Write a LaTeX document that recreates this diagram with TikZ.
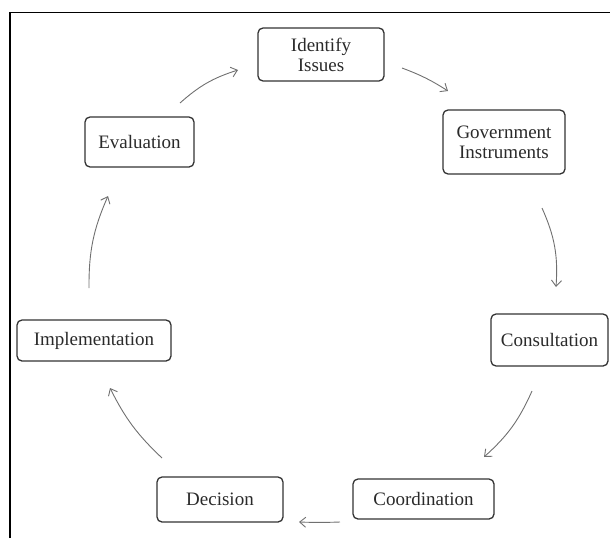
\documentclass[tikz,border=0pt]{standalone}
\usepackage{fontspec}
\setmainfont{Liberation Serif}
\usetikzlibrary{arrows.meta}
\definecolor{boxc}{HTML}{333333}
\definecolor{arrc}{HTML}{707070}
\definecolor{txtc}{HTML}{2A2A2A}
\begin{document}
\begin{tikzpicture}[x=1pt,y=-1pt,
  box/.style={draw=boxc, line width=1.3pt, rounded corners=5pt, inner sep=0pt, align=center, text=txtc, font=\fontsize{19}{20}\selectfont},
  flow/.style={draw=arrc, line width=0.9pt, -{Straight Barb[length=6pt,width=10pt]}},
  frame/.style={draw=black, line width=1.4pt}]
\useasboundingbox (0,0) rectangle (610,538);
\draw[frame] (10,538) -- (10,12.5) -- (610,12.5);
\node[box, minimum width=126pt, minimum height=53pt] (iden) at (321,54.5) {Identify\\Issues};
\node[box, minimum width=122pt, minimum height=64pt] (gov) at (504,142) {Government\\Instruments};
\node[box, minimum width=117pt, minimum height=52pt] (cons) at (549.5,340) {Consultation};
\node[box, minimum width=141pt, minimum height=40pt] (coord) at (423.5,499) {Coordination};
\node[box, minimum width=126pt, minimum height=45pt] (dec) at (220,499.5) {Decision};
\node[box, minimum width=154pt, minimum height=41pt] (impl) at (94,340.5) {Implementation};
\node[box, minimum width=109pt, minimum height=50pt] (eval) at (139.5,142) {Evaluation};
\coordinate (a1s) at (180,103); \coordinate (a1e) at (238,70);
\coordinate (a2s) at (402,68);  \coordinate (a2e) at (448,91);
\coordinate (a3s) at (542,208); \coordinate (a3e) at (556,287);
\coordinate (a4s) at (532,391); \coordinate (a4e) at (484,457);
\coordinate (a5s) at (340,522); \coordinate (a5e) at (299,522);
\coordinate (a6s) at (162,458); \coordinate (a6e) at (110,388);
\coordinate (a7s) at (89,288);  \coordinate (a7e) at (108,196);
\draw[flow] (a1s) to[bend left=12] (a1e);
\draw[flow] (a2s) to[bend left=6] (a2e);
\draw[flow] (a3s) to[bend left=14] (a3e);
\draw[flow] (a4s) to[bend left=12] (a4e);
\draw[flow] (a5s) to[bend left=2] (a5e);
\draw[flow] (a6s) to[bend left=10] (a6e);
\draw[flow] (a7s) to[bend left=12] (a7e);
\end{tikzpicture}
\end{document}
